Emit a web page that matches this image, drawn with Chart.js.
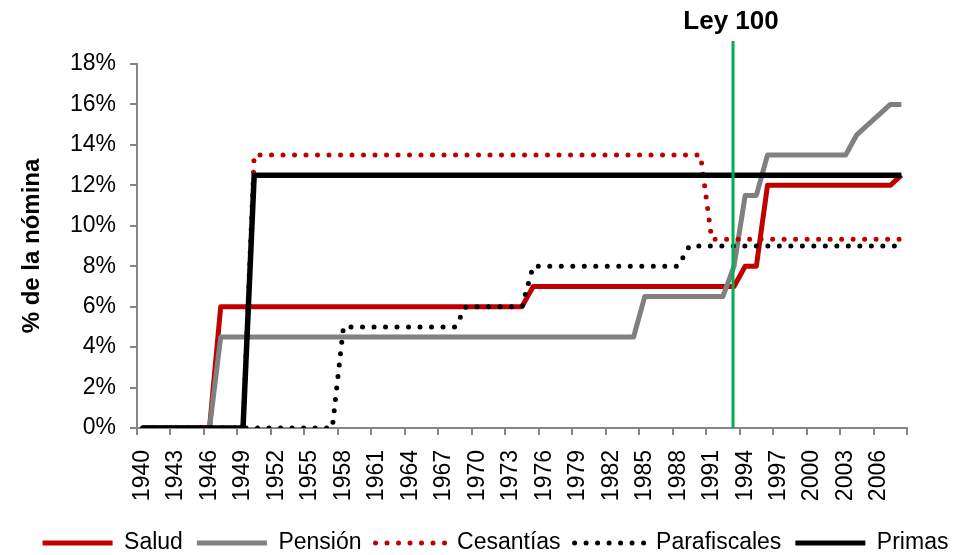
<!DOCTYPE html>
<html>
<head>
<meta charset="utf-8">
<script src="https://cdn.jsdelivr.net/npm/chart.js@4/dist/chart.umd.min.js"></script>
<style>
html,body{margin:0;padding:0;background:#fff;}
#wrap{width:965px;height:555px;}
</style>
</head>
<body>
<div id="wrap"><canvas id="c" width="965" height="555"></canvas></div>
<script>
// ---- Data (1940-2008) ----
const years = [];
for (let y = 1940; y <= 2008; y++) years.push(String(y));

const salud = [
  0,0,0,0,0,0,0,                                     // 1940-1946
  6,6,6,6,6,6,6,6,6,6,6,6,6,6,6,6,6,6,6,6,6,6,6,6,6,6,6,6, // 1947-1974
  7,7,7,7,7,7,7,7,7,7,7,7,7,7,7,7,7,7,7,             // 1975-1993
  8,8,                                               // 1994-1995
  12,12,12,12,12,12,12,12,12,12,12,12,               // 1996-2007
  12.5                                               // 2008
];
const pension = [
  0,0,0,0,0,0,0,                                     // 1940-1946
  4.5,4.5,4.5,4.5,4.5,4.5,4.5,4.5,4.5,4.5,4.5,4.5,4.5,4.5,4.5,4.5,4.5,4.5,4.5,
  4.5,4.5,4.5,4.5,4.5,4.5,4.5,4.5,4.5,4.5,4.5,4.5,4.5,4.5,4.5,4.5,4.5,4.5,4.5, // 1947-1984
  6.5,6.5,6.5,6.5,6.5,6.5,6.5,6.5,                   // 1985-1992
  8,                                                 // 1993
  11.5,11.5,                                         // 1994-1995
  13.5,13.5,13.5,13.5,13.5,13.5,13.5,13.5,           // 1996-2003
  14.5,15,15.5,16,16                                 // 2004-2008
];
const cesantias = [
  0,0,0,0,0,0,0,0,0,0,                               // 1940-1949
  13.5,13.5,13.5,13.5,13.5,13.5,13.5,13.5,13.5,13.5,13.5,13.5,13.5,13.5,
  13.5,13.5,13.5,13.5,13.5,13.5,13.5,13.5,13.5,13.5,13.5,13.5,13.5,13.5,
  13.5,13.5,13.5,13.5,13.5,13.5,13.5,13.5,13.5,13.5,13.5,13.5,13.5,   // 1950-1990
  9.33,9.33,9.33,9.33,9.33,9.33,9.33,9.33,9.33,9.33,9.33,9.33,9.33,9.33,
  9.33,9.33,9.33,9.33                                // 1991-2008
];
const parafiscales = [
  0,0,0,0,0,0,0,0,0,0,0,0,0,0,0,0,0,0,               // 1940-1957
  5,5,5,5,5,5,5,5,5,5,5,                             // 1958-1968
  6,6,6,6,6,6,                                       // 1969-1974
  8,8,8,8,8,8,8,8,8,8,8,8,8,8,                       // 1975-1988
  9,9,9,9,9,9,9,9,9,9,9,9,9,9,9,9,9,9,9,9            // 1989-2008
];
const primas = [
  0,0,0,0,0,0,0,0,0,0,                               // 1940-1949
  12.5,12.5,12.5,12.5,12.5,12.5,12.5,12.5,12.5,12.5,12.5,12.5,12.5,12.5,12.5,
  12.5,12.5,12.5,12.5,12.5,12.5,12.5,12.5,12.5,12.5,12.5,12.5,12.5,12.5,12.5,
  12.5,12.5,12.5,12.5,12.5,12.5,12.5,12.5,12.5,12.5,12.5,12.5,12.5,12.5,12.5,
  12.5,12.5,12.5,12.5,12.5,12.5,12.5,12.5,12.5,12.5,12.5,12.5,12.5,12.5      // 1950-2008
];
const seriesNames = ['Salud', 'Pensión', 'Cesantías', 'Parafiscales', 'Primas'];
const yTicks = [0, 2, 4, 6, 8, 10, 12, 14, 16, 18];
const leyYear = '1993';
const leyLabel = 'Ley 100';
const yTitle = '% de la nómina';

// ---- Styling ----
const FONT = "'Liberation Sans', Arial, sans-serif";
const AXIS = '#868686';
Chart.defaults.font.family = FONT;
Chart.defaults.color = '#000';

const dsStyle = [
  {color: '#C00000', dash: [], cap: 'butt', width: 5},
  {color: '#808080', dash: [], cap: 'butt', width: 5},
  {color: '#C00000', dash: [0, 11.5], cap: 'round', width: 5},
  {color: '#000000', dash: [0, 11.5], cap: 'round', width: 5},
  {color: '#000000', dash: [], cap: 'butt', width: 5.5}
];
const values = [salud, pension, cesantias, parafiscales, primas];

const datasets = values.map((v, i) => ({
  label: seriesNames[i],
  data: v,
  borderColor: dsStyle[i].color,
  backgroundColor: dsStyle[i].color,
  borderWidth: dsStyle[i].width,
  borderDash: dsStyle[i].dash,
  borderCapStyle: dsStyle[i].cap,
  borderJoinStyle: 'round',
  pointRadius: 0,
  pointHoverRadius: 0,
  tension: 0,
  fill: false,
  yAxisID: 'y',
  order: 10 - i
}));

const LEGEND_SHIFT_X = 13;
const LEGEND_CENTER_Y = 543;
const LEGEND_FS = 23;
const LEGEND_PAD = 14;

const extras = {
  id: 'extras',
  afterLayout(chart) {
    const lg = chart.legend;
    if (!lg) return;
    lg.left += LEGEND_SHIFT_X; lg.right += LEGEND_SHIFT_X;
    const curCenter = lg.top + LEGEND_PAD + LEGEND_FS / 2;
    const dy = LEGEND_CENTER_Y - curCenter;
    lg.top += dy; lg.bottom += dy;
  },
  afterDatasetsDraw(chart) {
    const {ctx, scales: {x}, chartArea} = chart;
    const idx = years.indexOf(leyYear);
    const px = x.getPixelForValue(idx) - 1;
    ctx.save();
    ctx.strokeStyle = '#00B050';
    ctx.lineWidth = 3;
    ctx.beginPath();
    ctx.moveTo(px, 41);
    ctx.lineTo(px, chartArea.bottom);
    ctx.stroke();
    ctx.fillStyle = '#000';
    ctx.font = "bold 26px " + FONT;
    ctx.textAlign = 'center';
    ctx.textBaseline = 'middle';
    ctx.fillText(leyLabel, px - 2, 22);
    ctx.restore();
  }
};

const tickColorFn = (c) => (c.index === undefined || c.index % 3 === 0) ? AXIS : 'rgba(0,0,0,0)';

new Chart(document.getElementById('c'), {
  type: 'line',
  data: {labels: years, datasets},
  plugins: [extras],
  options: {
    responsive: false,
    devicePixelRatio: 1,
    animation: false,
    events: [],
    layout: {padding: {left: 0, right: 0, top: 64, bottom: 0}},
    plugins: {
      tooltip: {enabled: false},
      legend: {
        position: 'bottom',
        labels: {
          font: {size: LEGEND_FS},
          color: '#000',
          usePointStyle: true,
          pointStyleWidth: 70,
          boxHeight: LEGEND_FS,
          padding: LEGEND_PAD,
          sort: (a, b) => a.datasetIndex - b.datasetIndex,
          generateLabels: (chart) => chart.data.datasets.map((d, i) => ({
            text: d.label,
            fillStyle: 'rgba(0,0,0,0)',
            strokeStyle: d.borderColor,
            lineWidth: 5,
            lineDash: d.borderDash,
            lineCap: d.borderCapStyle,
            pointStyle: 'line',
            fontColor: '#000',
            hidden: false,
            datasetIndex: i
          }))
        }
      }
    },
    scales: {
      x: {
        type: 'category',
        offset: true,
        afterFit: (s) => { s.height = 131 - (2 * LEGEND_PAD + LEGEND_FS); },
        border: {color: AXIS, width: 2},
        grid: {
          offset: true,
          drawOnChartArea: false,
          drawTicks: true,
          tickLength: 7,
          lineWidth: 2,
          color: tickColorFn,
          tickColor: tickColorFn
        },
        ticks: {
          autoSkip: false,
          maxRotation: 90,
          minRotation: 90,
          padding: 15,
          font: {size: 23},
          color: '#000',
          callback: (val, idx) => (idx % 3 === 0 ? years[idx] : '')
        }
      },
      y: {
        min: 0,
        max: 18,
        afterFit: (s) => { s.width = 137; },
        afterBuildTicks: (s) => { s.ticks = yTicks.map(v => ({value: v})); },
        border: {color: AXIS, width: 2},
        grid: {
          drawOnChartArea: false,
          drawTicks: true,
          tickLength: 7,
          lineWidth: 2,
          color: AXIS,
          tickColor: AXIS
        },
        ticks: {
          padding: 14,
          font: {size: 23},
          color: '#000',
          callback: (v) => v + '%'
        },
        title: {
          display: true,
          text: yTitle,
          font: {size: 24, weight: 'bold'},
          color: '#000',
          padding: {top: 18, bottom: 0}
        }
      },
      yR: {
        position: 'right',
        min: 0,
        max: 18,
        afterFit: (s) => { s.width = 58; },
        border: {display: false},
        grid: {display: false},
        ticks: {display: false}
      }
    }
  }
});
</script>
</body>
</html>
